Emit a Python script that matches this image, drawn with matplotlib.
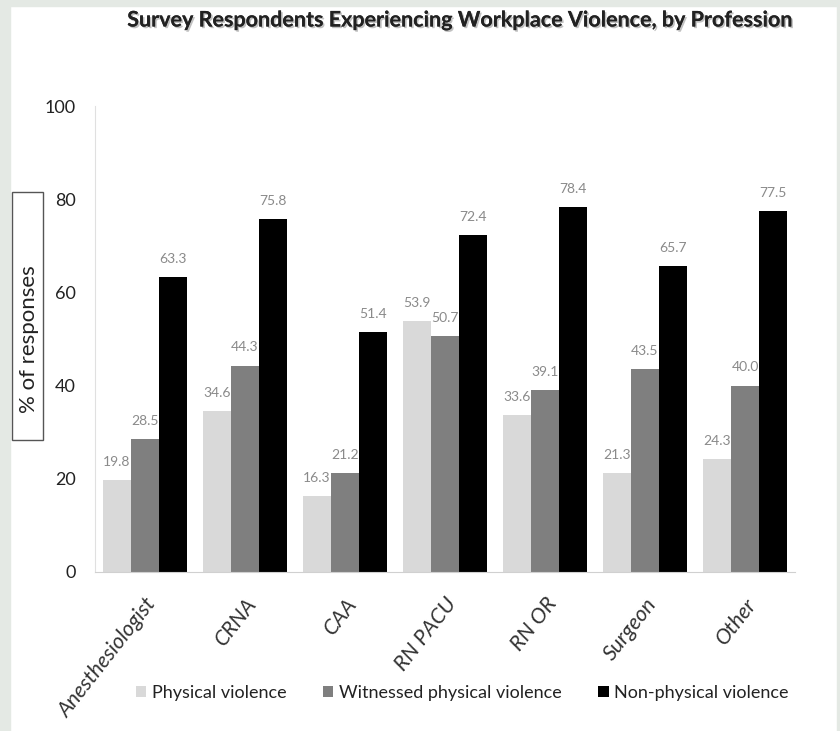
import numpy as np
import matplotlib
matplotlib.use("Agg")
import matplotlib.pyplot as plt
from matplotlib.patches import Rectangle
import matplotlib.patheffects as pe

professions = ["Anesthesiologist", "CRNA", "CAA", "RN PACU", "RN OR", "Surgeon", "Other"]
physical = [19.8, 34.6, 16.3, 53.9, 33.6, 21.3, 24.3]
witnessed = [28.5, 44.3, 21.2, 50.7, 39.1, 43.5, 40.0]
non_physical = [63.3, 75.8, 51.4, 72.4, 78.4, 65.7, 77.5]

series_names = ["Physical violence", "Witnessed physical violence", "Non-physical violence"]
series_colors = ["#d9d9d9", "#7f7f7f", "#000000"]

plt.rcParams['font.family'] = ['Lato', 'DejaVu Sans']

fig = plt.figure(figsize=(8.4, 7.31), dpi=100)
fig.patch.set_facecolor("white")

# light frame round the picture, like the screenshot
fig.patches.append(Rectangle((0, 0), 10/840, 1, transform=fig.transFigure,
                             color="#e4e9e4", zorder=0))
fig.patches.append(Rectangle((0, 1 - 6/731), 1, 6/731, transform=fig.transFigure,
                             color="#e4e9e4", zorder=0))
fig.patches.append(Rectangle((1 - 3/840, 0), 3/840, 1, transform=fig.transFigure,
                             color="#e4e9e4", zorder=0))

ax = fig.add_axes([95/840, 1 - 572/731, 700/840, (572 - 106)/731])

x = np.arange(len(professions))
w = 0.28
for i, (vals, col, name) in enumerate(zip([physical, witnessed, non_physical], series_colors, series_names)):
    bars = ax.bar(x + (i - 1) * w, vals, width=w, color=col, label=name, zorder=2)
    for b, v in zip(bars, vals):
        ax.text(b.get_x() + b.get_width() / 2, v + 2.6, f"{v:.1f}", ha="center", va="bottom",
                fontsize=10, color="#8a8a8a")

ax.set_xlim(-0.5, len(professions) - 0.5)
ax.set_ylim(0, 100)
ax.set_yticks([0, 20, 40, 60, 80, 100])
ax.tick_params(axis="y", length=0, labelsize=13, pad=14, labelcolor="#222222")
ax.tick_params(axis="x", length=0, pad=16)
ax.set_xticks(x)
ax.set_xticklabels(professions, rotation=52, ha="right", rotation_mode="anchor",
                   fontsize=15.5, style="italic", color="#333333")

for s in ["top", "right"]:
    ax.spines[s].set_visible(False)
ax.spines["left"].set_color("#e0e0e0")
ax.spines["bottom"].set_color("#d0d0d0")

# boxed y label
fig.patches.append(Rectangle((12/840, 1 - 440/731), 31/840, 248/731, transform=fig.transFigure,
                             fill=False, edgecolor="#555555", linewidth=1.0))
fig.text(29/840, 1 - 339/731, "% of responses", rotation=90, ha="center", va="center",
         fontsize=16, color="#222222")

fig.text(459/840, 1 - 20/731, "Survey Respondents Experiencing Workplace Violence, by Profession",
         ha="center", va="center", fontsize=15.5, fontweight="bold", color="#222222",
         path_effects=[pe.withSimplePatchShadow(offset=(1.2, -1.2), shadow_rgbFace="#999999", alpha=0.6), pe.Normal()])

leg = fig.legend(loc="center", bbox_to_anchor=(462/840, 1 - 693/731), ncol=3, frameon=False,
                 fontsize=13, handlelength=0.6, handleheight=0.6, handletextpad=0.3, columnspacing=2.0)
for t in leg.get_texts():
    t.set_color("#222222")

fig.savefig("out.png", dpi=100)
